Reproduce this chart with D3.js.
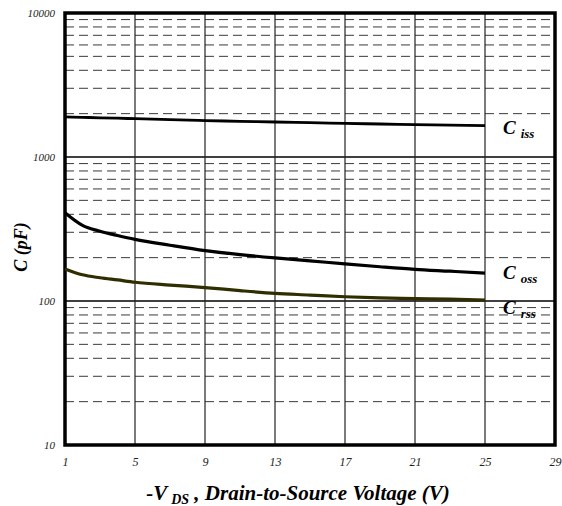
<!DOCTYPE html>
<html lang="en">
<head>
<meta charset="UTF-8">
<title>capacitance</title>
<script src="https://cdn.jsdelivr.net/npm/d3@7"></script>
<style>
	body { margin: 0; background: #fff; }
	text { font-family: "Liberation Serif", "Times New Roman", serif; font-style: italic; }
</style>
</head>
<body>
<script>
// data
let vds = [1, 2, 3, 4, 5, 7, 9, 11, 13, 15, 17, 19, 21, 23, 25]
let ciss = [1900, 1885, 1872, 1860, 1845, 1815, 1790, 1770, 1750, 1730, 1712, 1695, 1680, 1665, 1650]
let coss = [410, 335, 305, 285, 268, 244, 224, 210, 199, 190, 181, 173, 166, 161, 156]
let crss = [167, 152, 145, 140, 135, 129, 124, 118, 113, 110, 107, 105, 104, 103, 101.5]
let xTicks = [1, 5, 9, 13, 17, 21, 25, 29]
let yTicks = [10, 100, 1000, 10000]

let W = 562, H = 506
let m = { left: 65, right: 7, top: 13, bottom: 61 }

let svg = d3.select('body').append('svg')
	.attr('width', W)
	.attr('height', H)

let x = d3.scaleLinear().domain([1, 29]).range([m.left, W - m.right])
let y = d3.scaleLog().domain([10, 10000]).range([H - m.bottom, m.top])

// minor dashed lines
let minor = []
for (let d = 10; d < 10000; d *= 10)
	for (let k = 2; k <= 9; k++) minor.push(d * k)

svg.append('g').selectAll('line')
	.data(minor)
	.enter().append('line')
	.attr('x1', x(1)).attr('x2', x(29))
	.attr('y1', d => y(d)).attr('y2', d => y(d))
	.attr('stroke', '#3a3a3a')
	.attr('stroke-width', 1)
	.attr('stroke-dasharray', '9,5')

// decade lines
svg.append('g').selectAll('line')
	.data(yTicks)
	.enter().append('line')
	.attr('x1', x(1)).attr('x2', x(29))
	.attr('y1', d => y(d)).attr('y2', d => y(d))
	.attr('stroke', '#000')
	.attr('stroke-width', 1.5)

// vertical grid
svg.append('g').selectAll('line')
	.data(xTicks.slice(1, -1))
	.enter().append('line')
	.attr('x1', d => x(d)).attr('x2', d => x(d))
	.attr('y1', y(10)).attr('y2', y(10000))
	.attr('stroke', '#222')
	.attr('stroke-width', 1.2)

// frame
svg.append('rect')
	.attr('x', x(1)).attr('y', y(10000))
	.attr('width', x(29) - x(1)).attr('height', y(10) - y(10000))
	.attr('fill', 'none')
	.attr('stroke', '#000')
	.attr('stroke-width', 3.5)

// curves
let line = d3.line()
	.x((d, i) => x(vds[i]))
	.y(d => y(d))
	.curve(d3.curveMonotoneX)

let series = [
	{ v: ciss, color: '#000', w: 2.8 },
	{ v: coss, color: '#000', w: 3.2 },
	{ v: crss, color: '#2e2e00', w: 3.2 }
]
svg.append('g').selectAll('path')
	.data(series)
	.enter().append('path')
	.attr('d', d => line(d.v))
	.attr('fill', 'none')
	.attr('stroke', d => d.color)
	.attr('stroke-width', d => d.w)

// tick labels
let xAxis = d3.axisBottom(x).tickValues(xTicks).tickSize(0).tickPadding(12)
let gx = svg.append('g').attr('transform', `translate(0,${y(10)})`).call(xAxis)
gx.select('.domain').remove()
gx.selectAll('text').attr('font-size', 12).attr('font-family', '"Liberation Serif", serif').attr('font-style', 'italic').attr('fill', '#222')

let yAxis = d3.axisLeft(y).tickValues(yTicks).tickFormat(d3.format('d')).tickSize(0).tickPadding(10)
let gy = svg.append('g').attr('transform', `translate(${x(1)},0)`).call(yAxis)
gy.select('.domain').remove()
gy.selectAll('text').attr('font-size', 11).attr('font-family', '"Liberation Serif", serif').attr('font-style', 'italic').attr('fill', '#222')

// curve labels
let labels = [
	{ sub: 'iss', v: 1650, dy: 8 },
	{ sub: 'oss', v: 156, dy: 6 },
	{ sub: 'rss', v: 101.5, dy: 14 }
]
let lab = svg.append('g').selectAll('text')
	.data(labels)
	.enter().append('text')
	.attr('x', 503)
	.attr('y', d => y(d.v) + d.dy)
	.attr('font-weight', 'bold')
	.attr('font-size', 19)
lab.append('tspan').text('C')
lab.append('tspan').text(d => d.sub).attr('font-size', 13).attr('dx', 5).attr('dy', 4)

// axis titles
svg.append('text')
	.attr('transform', `translate(27,247) rotate(-90)`)
	.attr('text-anchor', 'middle')
	.attr('font-weight', 'bold')
	.attr('font-size', 18)
	.text('C (pF)')

let xt = svg.append('text')
	.attr('x', 298)
	.attr('y', 500)
	.attr('text-anchor', 'middle')
	.attr('font-weight', 'bold')
	.attr('font-size', 21)
xt.append('tspan').text('-V')
xt.append('tspan').text('DS').attr('font-size', 14).attr('dx', 4).attr('dy', 4)
xt.append('tspan').text(' , Drain-to-Source Voltage (V)').attr('dy', -4)
</script>
</body>
</html>
